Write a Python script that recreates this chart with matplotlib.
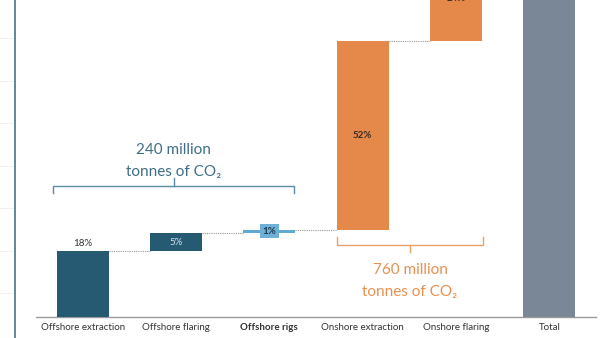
import matplotlib
matplotlib.use("Agg")
import matplotlib.pyplot as plt
from matplotlib.lines import Line2D

# emissions share by source, % of total
categories = ["Offshore extraction", "Offshore flaring", "Offshore rigs",
              "Onshore extraction", "Onshore flaring", "Total"]
shares = [18, 5, 1, 52, 24]
total = 100
offshore_note = ["240 million", "tonnes of CO₂"]
onshore_note = ["760 million", "tonnes of CO₂"]

DARK, LIGHT, ORANGE, GREY = "#255a72", "#5fa9d4", "#e5894a", "#798797"
INK, BLUE_TXT, ORANGE_TXT = "#333333", "#3f6d87", "#e8904f"
FONT = ["Lato", "DejaVu Sans"]
plt.rcParams["font.family"] = FONT

colors = [DARK, DARK, LIGHT, ORANGE, ORANGE]

fig = plt.figure(figsize=(6.07, 3.38), dpi=100)
ax = fig.add_axes([36 / 607, 21.5 / 338, 560 / 607, 316.5 / 338])
ax.set_xlim(-0.5, 5.5)
ax.set_ylim(0, 87.4)

# floating bars
bottoms = []
run = 0
for v in shares:
    bottoms.append(run)
    run += v
w = 0.557
for i, (v, b, c) in enumerate(zip(shares, bottoms, colors)):
    ax.bar(i, v, bottom=b, width=w, color=c, zorder=3)
ax.bar(5, total, width=w, color=GREY, zorder=3)

# dotted connectors between bar tops
for i, (v, b) in enumerate(zip(shares, bottoms)):
    top = b + v
    ax.plot([i + w / 2, i + 1 - w / 2], [top, top], ls=(0, (1, 1)),
            color="#999999", lw=0.8, zorder=2)

# value labels
ax.text(0, shares[0] + 2.2, f"{shares[0]}%", ha="center", va="center",
        fontsize=7, color=INK)
ax.text(1, bottoms[1] + shares[1] / 2, f"{shares[1]}%", ha="center",
        va="center", fontsize=7, color="#d6e2ea")
ax.text(2, bottoms[2] + shares[2] / 2, f"{shares[2]}%", ha="center",
        va="center", fontsize=7, fontweight="bold", color="#1d3a4a", zorder=5,
        bbox=dict(boxstyle="square,pad=0.25", fc="#6fb0d8", ec="none"))
ax.text(3, bottoms[3] + shares[3] / 2, f"{shares[3]}%", ha="center",
        va="center", fontsize=7, fontweight="bold", color="#3a2a1e", zorder=5)
# the flaring label sits right at the top edge of the page
ax.text(4, 87.9, f"{shares[4]}%", ha="center", va="center",
        fontsize=7, fontweight="bold", color="#3a2a1e", zorder=5,
        clip_on=False)

# offshore bracket (opens downward) and note
off_sum = sum(shares[:3])
x0, x1 = -0.316, 2.264
yb = off_sum + 12.1
bc = "#5b8aa3"
ax.plot([x0, x0, x1, x1], [yb - 2, yb, yb, yb - 2], color=bc, lw=1)
xm = (x0 + x1) / 2
ax.plot([xm, xm], [yb, yb + 2.1], color=bc, lw=1)
ax.text(xm, yb + 9.9, offshore_note[0], ha="center", va="center",
        fontsize=11, color=BLUE_TXT)
ax.text(xm, yb + 3.8, offshore_note[1], ha="center", va="center",
        fontsize=11, color=BLUE_TXT)

# onshore bracket (opens upward) and note
x0, x1 = 2.725, 4.288
yb = off_sum - 4.25
ax.plot([x0, x0, x1, x1], [yb + 2.2, yb, yb, yb + 2.2], color="#eaa06a", lw=1)
xm = (x0 + x1) / 2
ax.plot([xm, xm], [yb, yb - 1.9], color="#eaa06a", lw=1)
ax.text(xm, yb - 7.0, onshore_note[0], ha="center", va="center",
        fontsize=11, color=ORANGE_TXT)
ax.text(xm, yb - 13.0, onshore_note[1], ha="center", va="center",
        fontsize=11, color=ORANGE_TXT)

ax.set_xticks(range(len(categories)))
ax.set_xticklabels(categories, fontsize=7, color=INK)
ax.get_xticklabels()[2].set_fontweight("bold")
ax.tick_params(length=0, pad=5)
ax.set_yticks([])
for s in ("top", "right", "left"):
    ax.spines[s].set_visible(False)
ax.spines["bottom"].set_color("#9a9a9a")
ax.spines["bottom"].set_linewidth(1)
ax.set_facecolor("none")

# page edge on the left with faint rules
for y in [38, 81, 123, 166, 208, 251, 293]:
    fig.add_artist(Line2D([0, 13 / 607], [1 - y / 338, 1 - y / 338],
                          color="#f0f0f0", lw=0.8))
fig.add_artist(Line2D([14.5 / 607, 14.5 / 607], [0, 1], color="#5a7d8e", lw=1.3))

fig.savefig("out.png", dpi=100)
